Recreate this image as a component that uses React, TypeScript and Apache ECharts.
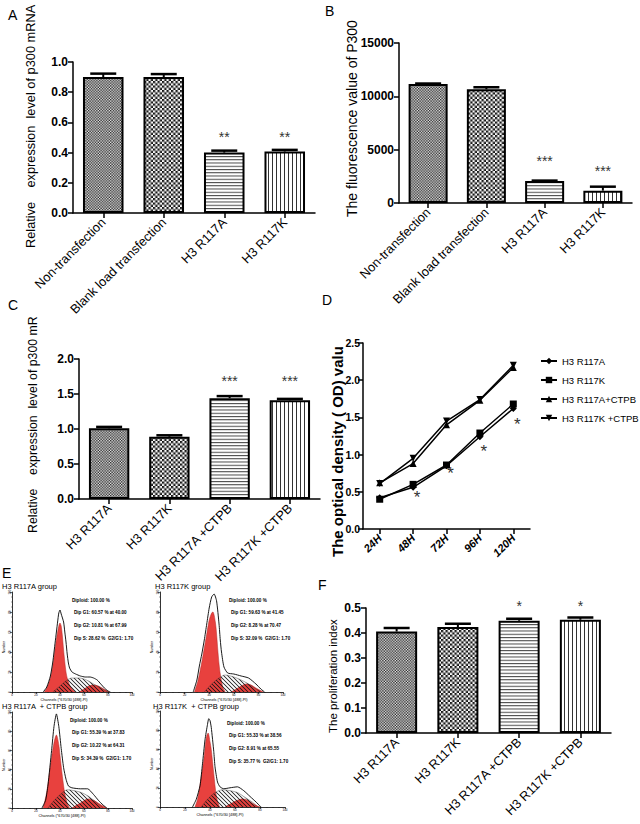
import React, { useEffect, useRef } from "react";
import * as echarts from "echarts";

const FONT = "'Liberation Sans', Arial, Helvetica, sans-serif";
const RED = "#e8413e";

// ---------- Panel A ----------
const catsA = ["Non-transfection", "Blank load transfection", "H3 R117A", "H3 R117K"];
const valuesA = [0.9, 0.9, 0.4, 0.407];
const errA = [0.923, 0.92, 0.413, 0.418];
const starsA = ["", "", "**", "**"];
const starPosA = [0, 0, 0.505, 0.505];

// ---------- Panel B ----------
const catsB = ["Non-transfection", "Blank load transfection", "H3 R117A", "H3 R117K"];
const valuesB = [11150, 10660, 2060, 1160];
const errB = [11200, 10850, 2100, 1530];
const starsB = ["", "", "***", "***"];
const starPosB = [0, 0, 3940, 3000];

// ---------- Panel C ----------
const catsC = ["H3 R117A", "H3 R117K", "H3 R117A +CTPB", "H3 R117K +CTPB"];
const valuesC = [1.01, 0.89, 1.44, 1.41];
const errC = [1.03, 0.91, 1.47, 1.43];
const starsC = ["", "", "***", "***"];
const starPosC = [0, 0, 1.68, 1.68];

// ---------- Panel D ----------
const hoursD = ["24H", "48H", "72H", "96H", "120H"];
const namesD = ["H3 R117A", "H3 R117K", "H3 R117A+CTPB", "H3 R117K +CTPB"];
const odR117A = [0.42, 0.56, 0.85, 1.24, 1.62];
const odR117K = [0.4, 0.6, 0.86, 1.29, 1.68];
const odR117ACTPB = [0.62, 0.88, 1.4, 1.73, 2.17];
const odR117KCTPB = [0.61, 0.95, 1.45, 1.74, 2.2];
const starIdxD = [1, 2, 3, 4];
const starPosD = [0.42, 0.75, 1.04, 1.41];

// ---------- Panel F ----------
const catsF = ["H3 R117A", "H3 R117K", "H3 R117A +CTPB", "H3 R117K +CTPB"];
const valuesF = [0.406, 0.424, 0.449, 0.453];
const errF = [0.42, 0.437, 0.457, 0.462];
const starsF = ["", "", "*", "*"];
const starPosF = [0, 0, 0.507, 0.507];

// ---------- Panel E (cell cycle histograms: [channel, count]) ----------
const titlesE = ["H3 R117A group", "H3 R117K group", "H3 R117A  + CTPB group", "H3 R117K  + CTPB group"];
const infoE1 = ["Diploid: 100.00 %", "Dip G1: 60.57 % at 40.00", "Dip G2: 10.81 % at 67.99", "Dip S: 28.62 %  G2/G1: 1.70"];
const infoE2 = ["Diploid: 100.00 %", "Dip G1: 59.63 % at 41.45", "Dip G2: 8.28 % at 70.47", "Dip S: 32.09 %  G2/G1: 1.70"];
const infoE3 = ["Diploid: 100.00 %", "Dip G1: 55.39 % at 37.83", "Dip G2: 10.22 % at 64.31", "Dip S: 34.39 %  G2/G1: 1.70"];
const infoE4 = ["Diploid: 100.00 %", "Dip G1: 55.33 % at 38.56", "Dip G2: 8.91 % at 65.55", "Dip S: 35.77 %  G2/G1: 1.70"];

const envE1 = [[26, 0], [29, 5], [32, 16], [34, 30], [36, 50], [38, 70], [39, 79], [40, 82], [41, 78], [43, 70], [44, 60], [45, 50], [46, 38], [47, 29], [48, 24], [50, 20], [53, 18], [57, 16], [61, 15], [65, 15], [68, 14], [71, 12], [74, 8], [77, 4], [80, 1], [82, 0]];
const g1E1 = [[27, 0], [29, 4], [32, 14], [34, 26], [36, 44], [38, 60], [40, 69], [41, 66], [42, 56], [43, 42], [44, 30], [45, 20], [46, 14], [48, 7], [50, 3], [53, 0]];
const sE1 = [[34, 0], [40, 6], [46, 12], [50, 14], [56, 14], [62, 12], [68, 8], [74, 4], [78, 1], [80, 0]];
const g2E1 = [[56, 0], [60, 3], [64, 6], [68, 7], [72, 6], [75, 4], [78, 2], [81, 0]];

const envE2 = [[27, 0], [30, 12], [32, 26], [34, 38], [36, 52], [38, 68], [40, 84], [42, 95], [44, 98], [46, 91], [48, 68], [49, 52], [50, 40], [52, 25], [55, 19], [60, 18], [66, 16], [72, 14], [78, 8], [82, 3], [85, 0]];
const g1E2 = [[28, 0], [31, 12], [34, 30], [36, 44], [38, 58], [40, 72], [42, 79], [43, 80], [45, 70], [46, 58], [47, 42], [48, 28], [49, 18], [51, 5], [53, 0]];
const sE2 = [[36, 0], [42, 8], [48, 14], [53, 17], [60, 15], [66, 12], [72, 8], [78, 3], [82, 0]];
const g2E2 = [[58, 0], [62, 3], [66, 6], [70, 8], [74, 7], [78, 4], [81, 2], [84, 0]];

const envE3 = [[25, 0], [28, 8], [30, 24], [33, 60], [35, 85], [37, 98], [39, 85], [41, 62], [43, 42], [45, 30], [47, 23], [50, 21], [57, 20], [63, 20], [68, 14], [72, 8], [76, 3], [79, 0]];
const g1E3 = [[26, 0], [29, 17], [32, 44], [35, 68], [37, 76], [39, 66], [40, 55], [42, 33], [44, 15], [46, 5], [48, 0]];
const sE3 = [[30, 0], [36, 9], [42, 16], [46, 19], [52, 18], [58, 16], [64, 12], [70, 6], [74, 2], [76, 0]];
const g2E3 = [[50, 0], [54, 3], [58, 6], [62, 9], [64, 9.5], [68, 8], [72, 5], [76, 2], [79, 0]];

const envE4 = [[26, 0], [29, 8], [32, 22], [34, 45], [36, 70], [38, 86], [39, 92], [40, 90], [41, 83], [43, 58], [44, 42], [46, 26], [48, 21], [51, 19], [56, 20], [62, 21], [67, 17], [72, 11], [77, 5], [80, 1], [81, 0]];
const g1E4 = [[28, 0], [30, 8], [32, 23], [35, 49], [37, 72], [38.5, 77], [40, 68], [41, 60], [43, 35], [45, 12], [47, 2], [48, 0]];
const sE4 = [[33, 0], [38, 8], [44, 15], [50, 18], [56, 17], [62, 15], [68, 10], [74, 5], [78, 0]];
const g2E4 = [[52, 0], [56, 3], [60, 6], [64, 8], [66, 8.5], [70, 7], [74, 4], [78, 1], [80, 0]];

// pattern tiles, drawn at K x resolution and scaled down in the SVG pattern
function makePattern(kind: string): any {
  const K = 4;
  const sizes: any = { fine: [2.8, 2.8], checker: [4.6, 4.6], hlines: [4, 3.3], vlines: [4, 4], hatch: [4, 4] };
  const [w, h] = sizes[kind];
  const c = document.createElement("canvas");
  c.width = Math.round(w * K); c.height = Math.round(h * K);
  const W = c.width, H = c.height;
  const ctx = c.getContext("2d")!;
  if (kind !== "hatch") { ctx.fillStyle = "#fff"; ctx.fillRect(0, 0, W, H); }
  ctx.fillStyle = "#111";
  if (kind === "fine" || kind === "checker") {
    ctx.fillRect(0, 0, W / 2, H / 2); ctx.fillRect(W / 2, H / 2, W / 2, H / 2);
  }
  if (kind === "hlines") { ctx.fillStyle = "#333"; ctx.fillRect(0, 0, W, K); }
  if (kind === "vlines") { ctx.fillStyle = "#333"; ctx.fillRect(0, 0, K, H); }
  if (kind === "hatch") {
    ctx.strokeStyle = "#111"; ctx.lineWidth = 0.8 * K;
    ctx.beginPath();
    ctx.moveTo(-K, -K); ctx.lineTo(W + K, H + K);
    ctx.moveTo(W - K, -K); ctx.lineTo(W + K, K);
    ctx.moveTo(-K, H - K); ctx.lineTo(K, H + K);
    ctx.stroke();
  }
  return { image: c, repeat: "repeat", imageWidth: W / K, imageHeight: H / K };
}

export default function App() {
  const ref = useRef<HTMLDivElement>(null);
  useEffect(() => {
    document.body.style.margin = "0";
    const chart = echarts.init(ref.current!, null, { renderer: "svg" });
    const pats = [makePattern("fine"), makePattern("checker"), makePattern("hlines"), makePattern("vlines")];
    const hatch = makePattern("hatch");

    const grids = [
      { left: 73, top: 62, width: 242, height: 151 }, // A
      { left: 399, top: 43, width: 233, height: 160 }, // B
      { left: 79, top: 359, width: 241, height: 140 }, // C
      { left: 363, top: 343, width: 167, height: 186 }, // D
      { left: 366, top: 608, width: 245, height: 125 }, // F
      { left: 12, top: 592, width: 120, height: 100 }, // E1
      { left: 160, top: 592, width: 123, height: 100 }, // E2
      { left: 12, top: 712, width: 120, height: 96 }, // E3
      { left: 160, top: 711, width: 125, height: 96 }, // E4
    ].map((g) => ({ ...g, outerBoundsMode: "none", containLabel: false }));

    const axLine = { show: true, lineStyle: { color: "#000", width: 1.5 } };
    const axTick = { show: true, length: 5, lineStyle: { color: "#000", width: 1.5 } };
    const catX = (gi: number, data: string[], o: any = {}) => ({
      type: "category", gridIndex: gi, data,
      axisLine: axLine, axisTick: { ...axTick, alignWithLabel: true },
      axisLabel: { rotate: 45, interval: 0, color: "#000", fontSize: o.fontSize || 12.8, fontFamily: FONT, fontStyle: o.italic ? "italic" : "normal", fontWeight: o.bold ? "bold" : "normal", margin: 7 },
      splitLine: { show: false },
    });
    const valY = (gi: number, max: number, interval: number, dec: number, fontSize = 12) => ({
      type: "value", gridIndex: gi, min: 0, max, interval,
      axisLine: axLine, axisTick: axTick,
      axisLabel: { color: "#000", fontSize, fontWeight: "bold", fontFamily: FONT, margin: fontSize < 12 ? 3 : 5, formatter: (v: number) => v.toFixed(dec) },
      splitLine: { show: false },
    });
    const eAxis = (gi: number, isY: boolean) => ({
      type: "value", gridIndex: gi, min: 0, max: 100, interval: 20,
      axisLine: { show: true, lineStyle: { color: "#000", width: 0.8 } },
      axisTick: { show: true, length: 2, lineStyle: { color: "#000", width: 0.6 } },
      minorTick: { show: true, splitNumber: 4, length: 1, lineStyle: { color: "#000", width: 0.4 } },
      axisLabel: { fontSize: 3, color: "#000", margin: 1, rotate: isY ? 90 : 0, fontFamily: FONT },
      splitLine: { show: false }, minorSplitLine: { show: false },
    });

    const xAxis: any[] = [catX(0, catsA), catX(1, catsB), catX(2, catsC), catX(3, hoursD, { italic: true, bold: true, fontSize: 11 }), catX(4, catsF), eAxis(5, false), eAxis(6, false), eAxis(7, false), eAxis(8, false)];
    const yAxis: any[] = [valY(0, 1.0, 0.2, 1), valY(1, 15000, 5000, 0), valY(2, 2.0, 0.5, 1), valY(3, 2.5, 0.5, 1, 10.5), valY(4, 0.5, 0.1, 1), eAxis(5, true), eAxis(6, true), eAxis(7, true), eAxis(8, true)];

    const barSeries = (gi: number, values: number[]) => ({
      type: "bar", xAxisIndex: gi, yAxisIndex: gi, barWidth: "67%", silent: true, z: 2,
      data: values.map((v, i) => ({ value: v, itemStyle: { color: pats[i] } })),
      itemStyle: { borderColor: "#000", borderWidth: 2 },
    });
    const errSeries = (gi: number, values: number[], errs: number[], hw = 13) => ({
      type: "custom", xAxisIndex: gi, yAxisIndex: gi, silent: true, z: 3,
      data: values.map((v, i) => [i, v, errs[i]]),
      renderItem: (params: any, api: any) => {
        const b = api.coord([api.value(0), api.value(1)]);
        const t = api.coord([api.value(0), api.value(2)]);
        return {
          type: "group", children: [
            { type: "line", shape: { x1: b[0], y1: b[1], x2: t[0], y2: t[1] }, style: { stroke: "#000", lineWidth: 2 } },
            { type: "line", shape: { x1: t[0] - hw, y1: t[1], x2: t[0] + hw, y2: t[1] }, style: { stroke: "#000", lineWidth: 2.5 } },
          ],
        };
      },
    });
    const starSeries = (gi: number, idx: number[], pos: number[], texts: string[], fontSize = 14, dx = 0) => ({
      type: "custom", xAxisIndex: gi, yAxisIndex: gi, silent: true, z: 4,
      data: idx.map((k, i) => [k, pos[i]]),
      renderItem: (params: any, api: any) => {
        const p = api.coord([api.value(0), api.value(1)]);
        return {
          type: "text", x: p[0] + dx, y: p[1],
          style: { text: texts[params.dataIndex], fill: "#333", fontSize, fontFamily: FONT, align: "center", verticalAlign: "middle", textAlign: "center", textVerticalAlign: "middle" },
        };
      },
    });
    const barStars = (gi: number, stars: string[], pos: number[], fontSize = 14) => {
      const idx: number[] = [], p: number[] = [], t: string[] = [];
      stars.forEach((s, i) => { if (s) { idx.push(i); p.push(pos[i]); t.push(s); } });
      return starSeries(gi, idx, p, t, fontSize);
    };

    const lineD = (name: string, data: number[], symbol: string) => ({
      type: "line", name, xAxisIndex: 3, yAxisIndex: 3, data, symbol, symbolSize: 7,
      lineStyle: { color: "#000", width: 1.5 }, itemStyle: { color: "#000" }, z: 3, silent: true,
    });

    const histSeries = (gi: number, env: number[][], g1: number[][], s: number[][], g2: number[][]) => [
      { type: "line", xAxisIndex: gi, yAxisIndex: gi, data: g1, smooth: 0.3, symbol: "none", silent: true, z: 2, lineStyle: { color: "#b52a28", width: 0.5 }, areaStyle: { color: RED, opacity: 1 } },
      { type: "line", xAxisIndex: gi, yAxisIndex: gi, data: g2, smooth: 0.3, symbol: "none", silent: true, z: 2, lineStyle: { color: "#b52a28", width: 0.5 }, areaStyle: { color: RED, opacity: 1 } },
      { type: "line", xAxisIndex: gi, yAxisIndex: gi, data: s, smooth: 0.3, symbol: "none", silent: true, z: 3, lineStyle: { color: "#333", width: 0.4 }, areaStyle: { color: hatch, opacity: 1 } },
      { type: "line", xAxisIndex: gi, yAxisIndex: gi, data: env, smooth: 0.2, symbol: "none", silent: true, z: 4, lineStyle: { color: "#000", width: 0.9 } },
    ];

    const series: any[] = [
      barSeries(0, valuesA), errSeries(0, valuesA, errA), barStars(0, starsA, starPosA),
      barSeries(1, valuesB), errSeries(1, valuesB, errB), barStars(1, starsB, starPosB),
      barSeries(2, valuesC), errSeries(2, valuesC, errC), barStars(2, starsC, starPosC),
      lineD(namesD[0], odR117A, "diamond"),
      lineD(namesD[1], odR117K, "rect"),
      lineD(namesD[2], odR117ACTPB, "triangle"),
      lineD(namesD[3], odR117KCTPB, "path://M0,0L10,0L5,9Z"),
      starSeries(3, starIdxD, starPosD, ["*", "*", "*", "*"], 17, 4),
      barSeries(4, valuesF), errSeries(4, valuesF, errF), barStars(4, starsF, starPosF),
      ...histSeries(5, envE1, g1E1, sE1, g2E1),
      ...histSeries(6, envE2, g1E2, sE2, g2E2),
      ...histSeries(7, envE3, g1E3, sE3, g2E3),
      ...histSeries(8, envE4, g1E4, sE4, g2E4),
    ];

    const txt = (text: string, x: number, y: number, o: any = {}) => ({
      type: "text", x, y, rotation: o.rotation || 0, silent: true,
      style: {
        text, fill: o.fill || "#000", fontSize: o.fontSize || 12, fontFamily: o.fontFamily || FONT,
        fontWeight: o.fontWeight || "normal",
        align: o.align || "left", verticalAlign: o.verticalAlign || "middle",
        textAlign: o.align || "left", textVerticalAlign: o.verticalAlign || "middle",
      },
    });
    const R = Math.PI / 2;
    const graphic: any[] = [
      txt("A", 8, 15, { fontSize: 14 }),
      txt("B", 325, 11, { fontSize: 14 }),
      txt("C", 8, 305, { fontSize: 14 }),
      txt("D", 322, 300, { fontSize: 14 }),
      txt("E", 2, 573, { fontSize: 14 }),
      txt("F", 318, 585, { fontSize: 14 }),
      txt("Relative    expression  level of p300 mRNA", 30, 248, { rotation: R, fontSize: 12.8 }),
      txt("The fluorescence value of P300", 352, 217, { rotation: R, fontSize: 14 }),
      txt("Relative    expression  level of p300 mR", 33, 533, { rotation: R, fontSize: 12.3 }),
      txt("The optical density ( OD) valu", 337, 557, { rotation: R, fontSize: 15, fontWeight: "bold" }),
      txt("The proliferation index", 333, 733, { rotation: R, fontSize: 11.5 }),
    ];
    const eBoxes = [
      { t: titlesE[0], tx: 2, ty: 586, info: infoE1, ix: 72, iy: 600, gx: 12, gy: 592, gh: 100, cx: 64, cy: 699.5 },
      { t: titlesE[1], tx: 155, ty: 586, info: infoE2, ix: 229, iy: 600, gx: 160, gy: 592, gh: 100, cx: 224, cy: 699.5 },
      { t: titlesE[2], tx: 2, ty: 706, info: infoE3, ix: 70, iy: 720, gx: 12, gy: 712, gh: 96, cx: 62, cy: 816 },
      { t: titlesE[3], tx: 153, ty: 706, info: infoE4, ix: 227, iy: 723, gx: 160, gy: 711, gh: 96, cx: 220, cy: 815 },
    ];
    eBoxes.forEach((b) => {
      graphic.push(txt(b.t, b.tx, b.ty, { fontSize: 7.5 }));
      b.info.forEach((line, k) => {
        graphic.push(txt(line, b.ix + (k === 0 ? 0 : 2), b.iy + k * 12.8, { fontSize: 4.6, fontWeight: "bold" }));
      });
      graphic.push(txt("Number", b.gx - 8, b.gy + b.gh * 0.55, { rotation: R, fontSize: 3.5, align: "center" }));
      graphic.push(txt("Channels (*670/30 [488]-PI)", b.cx, b.cy, { fontSize: 3.8, align: "center" }));
    });

    chart.setOption({
      animation: false,
      backgroundColor: "#fff",
      textStyle: { fontFamily: FONT },
      grid: grids,
      xAxis,
      yAxis,
      legend: {
        data: namesD, orient: "vertical", left: 535, top: 351, itemWidth: 16, itemHeight: 8, itemGap: 9,
        textStyle: { fontFamily: FONT, fontSize: 9.5, color: "#000" }, selectedMode: false,
      },
      series,
      graphic,
    });
    return () => chart.dispose();
  }, []);
  return <div ref={ref} style={{ position: "fixed", left: 0, top: 0, width: 640, height: 824, background: "#fff" }} />;
}
